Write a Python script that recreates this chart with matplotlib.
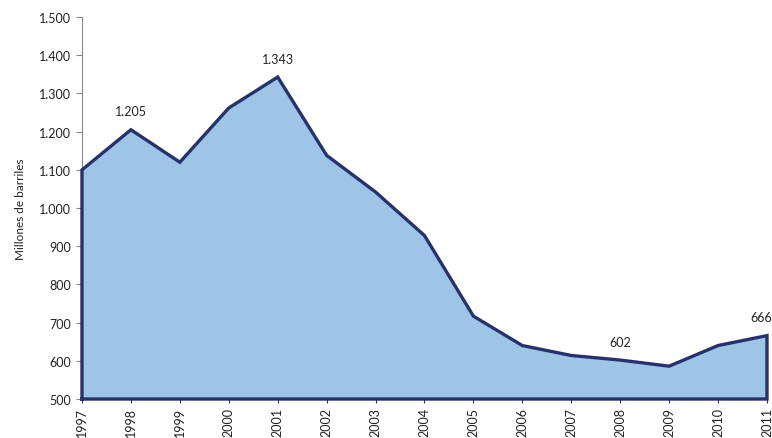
import matplotlib
matplotlib.use("Agg")
import matplotlib.pyplot as plt
from matplotlib.ticker import FuncFormatter

years = list(range(1997, 2012))
barrels = [1100, 1205, 1120, 1262, 1343, 1138, 1042, 928, 717, 640, 614, 602, 586, 640, 666]
labelled_years = [1998, 2001, 2008, 2011]
y_ticks = [500, 600, 700, 800, 900, 1000, 1100, 1200, 1300, 1400, 1500]

plt.rcParams['font.family'] = ['Lato', 'DejaVu Sans']

fill_color = '#9ec4e8'
line_color = '#27326a'
text_color = '#222222'

fig = plt.figure(figsize=(7.72, 4.39), dpi=100)
ax = fig.add_axes([0.1062, 0.0888, 0.8873, 0.870])

ax.fill_between(years, barrels, 500, facecolor=fill_color, edgecolor='none', zorder=1)
# full outline of the filled area
xs = [years[0]] + years + [years[-1], years[0]]
ys = [500] + barrels + [500, 500]
ax.plot(xs, ys, color=line_color, linewidth=2.4, solid_joinstyle='miter', zorder=3, clip_on=False)

for yr in labelled_years:
    v = barrels[years.index(yr)]
    ha, dx = ('center', 0) if yr != years[-1] else ('right', 4)
    ax.annotate(f"{v:,}".replace(",", "."), (yr, v), xytext=(dx, 9), textcoords='offset points',
                ha=ha, va='bottom', fontsize=9, color=text_color, annotation_clip=False)

ax.set_xlim(1997, 2011)
ax.set_ylim(500, 1500)
ax.set_yticks(y_ticks)
ax.yaxis.set_major_formatter(FuncFormatter(lambda v, p: f"{int(v):,}".replace(",", ".")))
ax.set_xticks(years)
ax.set_xticklabels([str(y) for y in years], rotation=90, va='top', ha='center')

ax.tick_params(axis='y', direction='out', length=4, width=0.8, color='#888888', labelsize=9, labelcolor=text_color, pad=4)
ax.tick_params(axis='x', direction='out', length=3, width=0.8, color=line_color, labelsize=9, labelcolor=text_color, pad=3)

for side in ['top', 'right', 'bottom']:
    ax.spines[side].set_visible(False)
ax.spines['left'].set_color('#888888')
ax.spines['left'].set_linewidth(0.8)

ax.set_ylabel('Millones de barriles', fontsize=8.5, color=text_color, labelpad=9)

fig.savefig('out.png', dpi=100)
